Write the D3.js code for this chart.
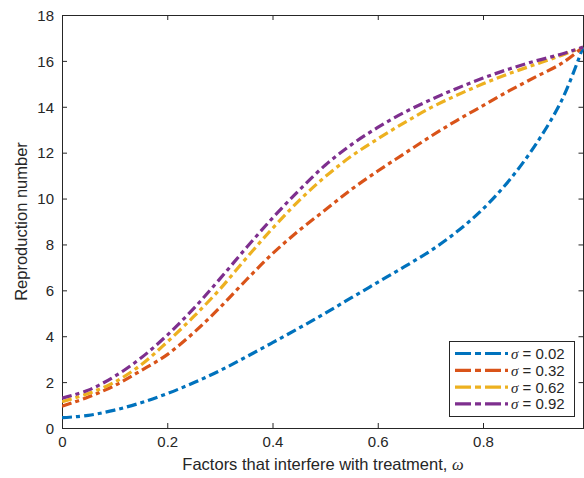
<!DOCTYPE html>
<html>
<head>
<meta charset="utf-8">
<script src="https://cdn.jsdelivr.net/npm/d3@7"></script>
<style>
  html, body { margin: 0; padding: 0; background: #fff; }
  svg { display: block; font-family: "Liberation Sans", Arial, Helvetica, sans-serif; }
</style>
</head>
<body>
<svg id="chart" width="584" height="478"></svg>
<script>
// ---- data ----
const omega = [0, 0.05, 0.1, 0.15, 0.2, 0.25, 0.3, 0.35, 0.4, 0.45, 0.5, 0.55, 0.6, 0.65, 0.7, 0.75, 0.8, 0.85, 0.9, 0.95, 0.99];
const sigmaLabels = ["0.02", "0.32", "0.62", "0.92"];
const r_sigma002 = [0.45, 0.55, 0.78, 1.1, 1.5, 1.97, 2.5, 3.1, 3.72, 4.35, 5.0, 5.68, 6.35, 7.02, 7.72, 8.55, 9.55, 10.8, 12.35, 14.3, 16.6];
const r_sigma032 = [0.95, 1.35, 1.85, 2.5, 3.2, 4.15, 5.25, 6.45, 7.6, 8.6, 9.5, 10.4, 11.2, 11.95, 12.7, 13.4, 14.05, 14.7, 15.3, 15.9, 16.6];
const r_sigma062 = [1.15, 1.5, 2.0, 2.75, 3.75, 4.85, 6.05, 7.4, 8.7, 9.9, 10.95, 11.85, 12.6, 13.3, 13.95, 14.5, 15.0, 15.45, 15.85, 16.25, 16.6];
const r_sigma092 = [1.3, 1.65, 2.25, 3.05, 4.05, 5.2, 6.5, 7.85, 9.15, 10.35, 11.45, 12.35, 13.1, 13.75, 14.3, 14.8, 15.25, 15.65, 16.0, 16.3, 16.6];
const seriesValues = [r_sigma002, r_sigma032, r_sigma062, r_sigma092];
const colors = ["#0072BD", "#D95319", "#EDB120", "#7E2F8E"];
const xTicks = [0, 0.2, 0.4, 0.6, 0.8];
const yTicks = [0, 2, 4, 6, 8, 10, 12, 14, 16, 18];

// ---- layout ----
const svg = d3.select("#chart");
const L = 62, R = 584, T = 15, B = 428;
const x = d3.scaleLinear().domain([0, 0.99]).range([L, 583]);
const y = d3.scaleLinear().domain([0, 18]).range([B, T]);
const ink = "#262626";

svg.append("defs").append("clipPath").attr("id", "clip")
  .append("rect").attr("x", L).attr("y", T - 3).attr("width", R - L + 2).attr("height", B - T + 3);

// axes (MATLAB-like box with inward ticks)
const tickLen = 5;
const gx = svg.append("g").attr("transform", `translate(0,${B})`)
  .call(d3.axisBottom(x).tickValues(xTicks).tickSize(-tickLen).tickPadding(10)
    .tickFormat(d => d === 0 ? "0" : d3.format(".1f")(d)));
const gxTop = svg.append("g").attr("transform", `translate(0,${T})`)
  .call(d3.axisTop(x).tickValues(xTicks).tickSize(-tickLen).tickFormat(""));
const gy = svg.append("g").attr("transform", `translate(${L},0)`)
  .call(d3.axisLeft(y).tickValues(yTicks).tickSize(-tickLen).tickPadding(8).tickFormat(d3.format("d")));
const gyR = svg.append("g").attr("transform", `translate(${R - 0.5},0)`)
  .call(d3.axisRight(y).tickValues(yTicks).tickSize(-tickLen).tickFormat(""));

[gx, gxTop, gy, gyR].forEach(g => {
  g.select(".domain").attr("stroke", ink).attr("stroke-width", 1);
  g.selectAll(".tick line").attr("stroke", ink);
  g.selectAll(".tick text").attr("fill", ink).style("font-size", "15px")
    .style("font-family", "'Liberation Sans', Arial, sans-serif");
});
gx.select(".domain").attr("d", `M${L},0.5H${R}`);
gxTop.select(".domain").attr("d", `M${L},0.5H${R}`);
gy.select(".domain").attr("d", `M0.5,${B}V${T}`);
gyR.select(".domain").attr("d", `M0,${B}V${T}`);
gx.selectAll(".tick text").attr("dy", "0.6em");
gy.selectAll(".tick text").attr("dy", "0.35em");

// lines
const line = d3.line().x((d, i) => x(omega[i])).y(d => y(d)).curve(d3.curveCatmullRom.alpha(0.5));
const plot = svg.append("g").attr("clip-path", "url(#clip)");
seriesValues.forEach((vals, k) => {
  plot.append("path").datum(vals)
    .attr("d", line)
    .attr("fill", "none")
    .attr("stroke", colors[k])
    .attr("stroke-width", 3.2)
    .attr("stroke-dasharray", "10,4,4,4");
});

// axis titles
const xt = svg.append("text").attr("x", 323).attr("y", 470).attr("text-anchor", "middle")
  .attr("fill", ink).style("font-size", "16.5px");
xt.append("tspan").text("Factors that interfere with treatment, ");
xt.append("tspan").text("ω").style("font-family", "'Liberation Serif', 'DejaVu Serif', serif").style("font-style", "italic");

svg.append("text").attr("transform", `translate(27,${(T + B) / 2}) rotate(-90)`)
  .attr("text-anchor", "middle").attr("fill", ink).style("font-size", "16.5px")
  .text("Reproduction number");

// legend
const lg = svg.append("g");
lg.append("rect").attr("x", 449.5).attr("y", 341.5).attr("width", 125).attr("height", 75)
  .attr("fill", "#fff").attr("stroke", ink).attr("stroke-width", 1);
sigmaLabels.forEach((s, k) => {
  const yy = 353.5 + k * 16.8;
  lg.append("line").attr("x1", 455).attr("x2", 508).attr("y1", yy).attr("y2", yy)
    .attr("stroke", colors[k]).attr("stroke-width", 3.2).attr("stroke-dasharray", "16,4,6,4");
  const t = lg.append("text").attr("x", 511).attr("y", yy + 5.5).attr("fill", ink).style("font-size", "15px");
  t.append("tspan").text("σ").style("font-family", "'Liberation Serif', 'DejaVu Serif', serif").style("font-style", "italic");
  t.append("tspan").text(" = " + s);
});
</script>
</body>
</html>
